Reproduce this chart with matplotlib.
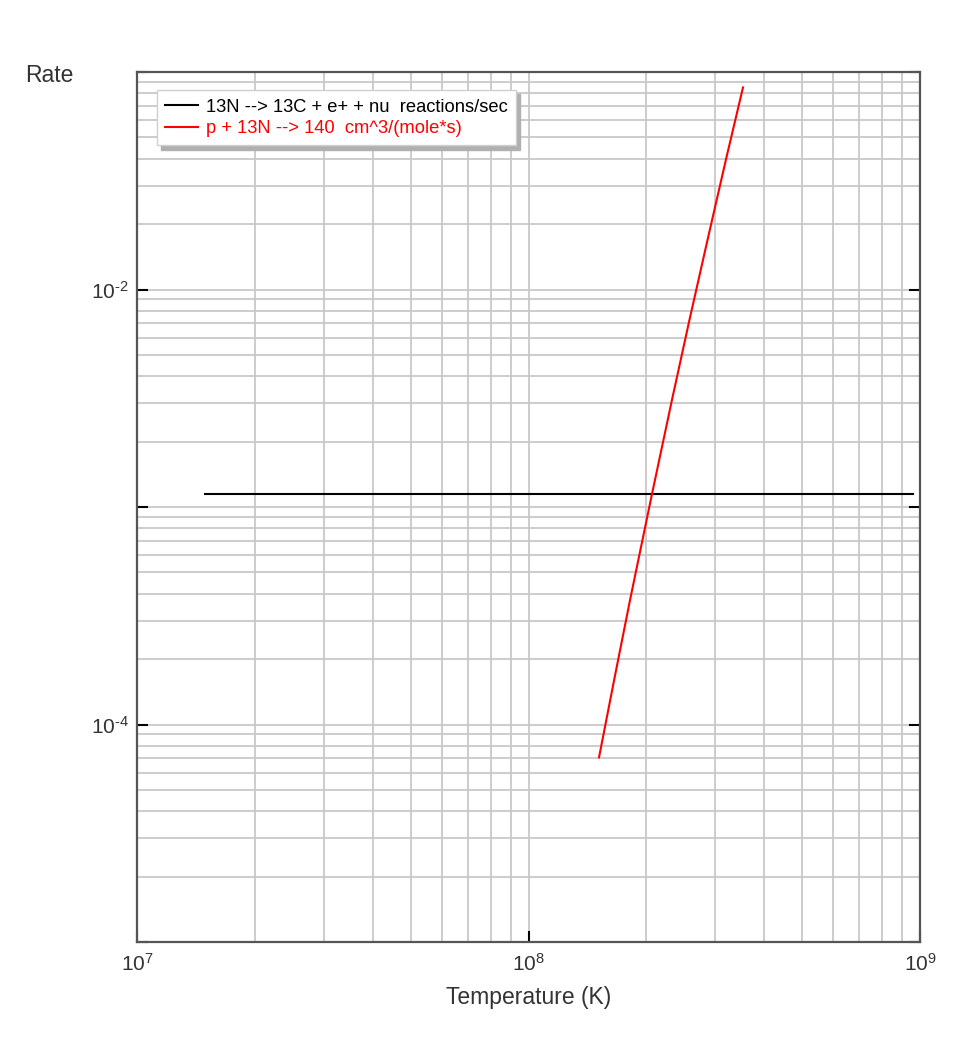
import matplotlib
matplotlib.use("Agg")
import matplotlib.pyplot as plt
from matplotlib.ticker import LogLocator, FixedLocator, NullFormatter

plt.rcParams["font.family"] = ["Liberation Sans", "DejaVu Sans"]
plt.rcParams["mathtext.fontset"] = "custom"
plt.rcParams["mathtext.rm"] = "Liberation Sans"
plt.rcParams["mathtext.it"] = "Liberation Sans:italic"

# 13N beta decay: constant rate (reactions/sec)
decay_T = [1.49e7, 9.6e8]
decay_rate = [1.15e-3, 1.15e-3]

# p + 13N capture rate
capture_T = [1.514e8, 1.659e8, 1.821e8, 2.068e8, 2.328e8, 2.579e8, 2.866e8, 3.192e8, 3.531e8]
capture_rate = [7.06e-5, 1.64e-4, 3.81e-4, 1.15e-3, 3.14e-3, 7.29e-3, 1.69e-2, 3.94e-2, 8.49e-2]

decay_label = "13N --> 13C + e+ + nu  reactions/sec"
capture_label = "p + 13N --> 140  cm^3/(mole*s)"

x_ticks = [1e7, 1e8, 1e9]
x_ticklabels = ["$10^{7}$", "$10^{8}$", "$10^{9}$"]
y_ticks = [1e-5, 1e-4, 1e-3, 1e-2, 1e-1]
y_ticklabels = ["", "$10^{\\text{-}4}$", "", "$10^{\\text{-}2}$", ""]

GRID = "#c8c8c8"
SPINE = "#555555"
TEXT = "#333333"

fig = plt.figure(figsize=(9.8, 10.47), dpi=100)
ax = fig.add_axes([137 / 980, 1 - 942 / 1047, (920 - 137) / 980, (942 - 72) / 1047])

ax.plot(decay_T, decay_rate, color="black", lw=1.5, label=decay_label)
ax.plot(capture_T, capture_rate, color="red", lw=1.5, label=capture_label)

ax.set_xscale("log")
ax.set_yscale("log")
ax.set_xlim(1e7, 1e9)
ax.set_ylim(1e-5, 1e-1)

# grid on every decade and sub-decade
ax.xaxis.set_minor_locator(LogLocator(base=10, subs=range(2, 10), numticks=20))
ax.yaxis.set_minor_locator(LogLocator(base=10, subs=range(2, 10), numticks=20))
ax.xaxis.set_minor_formatter(NullFormatter())
ax.yaxis.set_minor_formatter(NullFormatter())
ax.grid(True, which="both", color=GRID, lw=1.3)
ax.set_axisbelow(True)
ax.tick_params(which="minor", length=0)
ax.tick_params(which="major", direction="in", length=8, width=1.5, color="black",
               left=True, right=True, bottom=True, top=False,
               labelsize=15, labelcolor=TEXT)

ax.set_xticks(x_ticks)
ax.set_xticklabels(x_ticklabels)
ax.set_yticks(y_ticks)
ax.set_yticklabels(y_ticklabels)
ax.tick_params(axis="x", pad=8)
ax.tick_params(axis="y", pad=6)

for s in ax.spines.values():
    s.set_color(SPINE)
    s.set_linewidth(1.6)

ax.set_xlabel("Temperature (K)", fontsize=16.5, color=TEXT, labelpad=8)
fig.text(25 / 980, 1 - 75 / 1047, "Rate", fontsize=16.5, color=TEXT, va="center", ha="left")

leg = ax.legend(loc="upper left", bbox_to_anchor=(0.0255, 0.979), borderaxespad=0,
                fontsize=13.2, frameon=True, fancybox=False,
                shadow={"color": "#b0b0b0", "alpha": 1.0, "ox": 3, "oy": -3},
                handlelength=1.8, handletextpad=0.4, borderpad=0.45, labelspacing=0.25)
leg.get_frame().set_edgecolor("#d0d0d0")
leg.get_frame().set_linewidth(1.0)
leg.get_frame().set_alpha(1.0)
for txt, col in zip(leg.get_texts(), ["black", "red"]):
    txt.set_color(col)

fig.savefig("out.png", dpi=100, facecolor="white")
